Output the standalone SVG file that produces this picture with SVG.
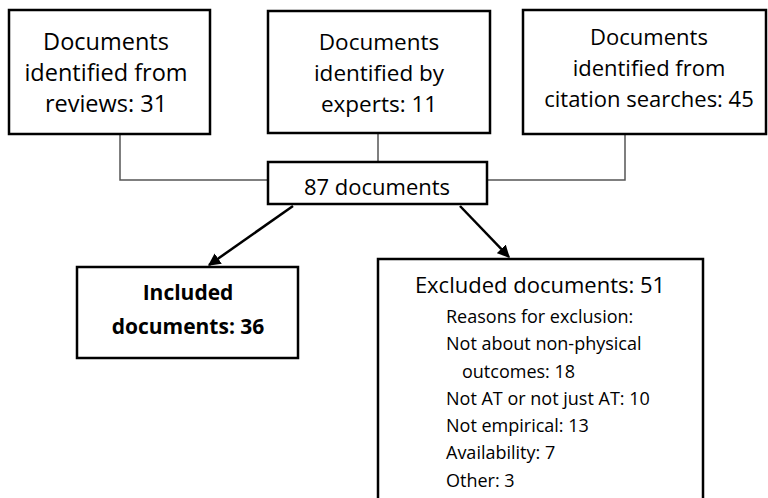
<svg xmlns="http://www.w3.org/2000/svg" width="768" height="498" viewBox="0 0 768 498">
<defs>
<style>
.box{fill:#fff;stroke:#000;stroke-width:2.5}
.t{font-family:"Open Sans","Liberation Sans",sans-serif;fill:#000}
.c{text-anchor:middle;font-size:22px}
.r{font-size:18px}
.b{font-weight:bold}
.ln{fill:none;stroke:#555;stroke-width:1.5}
.ar{fill:none;stroke:#000;stroke-width:2.5}
</style>
<marker id="ah" viewBox="0 0 10 10" refX="9" refY="5" markerWidth="5" markerHeight="5" markerUnits="strokeWidth" orient="auto">
<path d="M0,0 L10,5 L0,10 z" fill="#000"/>
</marker>
</defs>
<rect width="768" height="498" fill="#fff"/>
<g id="connectors">
<polyline class="ln" points="120,134 120,180 268,180"/>
<line class="ln" x1="378" y1="133" x2="378" y2="162"/>
<polyline class="ln" points="625,134 625,180 487,180"/>
<line class="ar" x1="293" y1="206" x2="209" y2="265" marker-end="url(#ah)"/>
<line class="ar" x1="460" y1="206" x2="509" y2="257" marker-end="url(#ah)"/>
</g>
<g id="reviews">
<rect class="box" x="9" y="10" width="201" height="124"/>
<text class="t c" x="106" y="50" style="font-size:23.5px">Documents</text>
<text class="t c" x="106" y="81" style="font-size:23.5px">identified from</text>
<text class="t c" x="106" y="112" style="font-size:23.5px">reviews: 31</text>
</g>
<g id="experts">
<rect class="box" x="268" y="11" width="222" height="122"/>
<text class="t c" x="379" y="50" style="font-size:22.5px">Documents</text>
<text class="t c" x="379" y="81" style="font-size:22.5px">identified by</text>
<text class="t c" x="379" y="112" style="font-size:22.5px">experts: 11</text>
</g>
<g id="citations">
<rect class="box" x="523" y="10" width="243" height="124"/>
<text class="t c" x="649" y="45">Documents</text>
<text class="t c" x="649" y="76">identified from</text>
<text class="t c" x="649" y="107">citation searches: 45</text>
</g>
<g id="total">
<rect class="box" x="268" y="162" width="219" height="42"/>
<text class="t c" x="377" y="195">87 documents</text>
</g>
<g id="included">
<rect class="box" x="77" y="267" width="221" height="91"/>
<text class="t c b" x="188" y="300" style="font-size:21px">Included</text>
<text class="t c b" x="188" y="334" style="font-size:21px">documents: 36</text>
</g>
<g id="excluded">
<rect class="box" x="378" y="259" width="325" height="250"/>
<text class="t c" x="540" y="293">Excluded documents: 51</text>
<text class="t r" x="446" y="323">Reasons for exclusion:</text>
<text class="t r" x="446" y="350">Not about non-physical</text>
<text class="t r" x="462" y="378">outcomes: 18</text>
<text class="t r" x="446" y="405">Not AT or not just AT: 10</text>
<text class="t r" x="446" y="432">Not empirical: 13</text>
<text class="t r" x="446" y="459">Availability: 7</text>
<text class="t r" x="446" y="487">Other: 3</text>
</g>
</svg>
